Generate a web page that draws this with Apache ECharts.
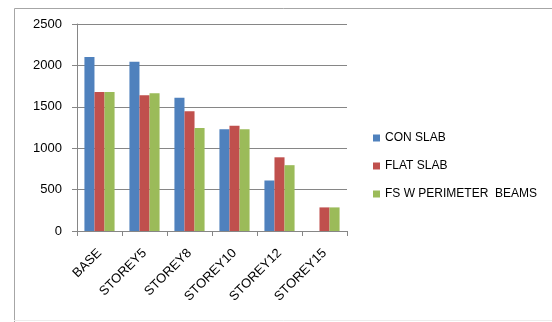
<!DOCTYPE html>
<html>
<head>
<meta charset="utf-8">
<script src="https://cdn.jsdelivr.net/npm/echarts@6/dist/echarts.min.js"></script>
<style>
  html, body { margin: 0; padding: 0; background: #fff; }
  #chart { width: 552px; height: 322px; }
</style>
</head>
<body>
<div id="chart"></div>
<script>
// Building cases along the x axis
const categories = ['BASE', 'STOREY5', 'STOREY8', 'STOREY10', 'STOREY12', 'STOREY15'];

// Values per slab system (no conventional slab result for STOREY15)
const conSlab = [2100, 2045, 1610, 1230, 610, null];
const flatSlab = [1680, 1640, 1445, 1270, 890, 285];
const fsPerimeterBeams = [1680, 1665, 1245, 1230, 795, 285];

const seriesNames = ['CON SLAB', 'FLAT SLAB', 'FS W PERIMETER  BEAMS'];
const seriesColors = ['#4F81BD', '#C0504D', '#9BBB59'];
const seriesData = [conSlab, flatSlab, fsPerimeterBeams];

const yTicks = [0, 500, 1000, 1500, 2000, 2500];

const chart = echarts.init(document.getElementById('chart'), null, { renderer: 'canvas' });

const font = 'Liberation Sans, Arial, sans-serif';

chart.setOption({
  backgroundColor: '#ffffff',
  animation: false,
  graphic: [
    {
      type: 'polyline',
      shape: { points: [[560, 8.5], [14.5, 8.5], [14.5, 330]] },
      style: { stroke: '#a6a6a6', lineWidth: 1, fill: null },
      silent: true
    },
    {
      type: 'line',
      shape: { x1: 14, y1: 320.5, x2: 560, y2: 320.5 },
      style: { stroke: '#ececec', lineWidth: 1 },
      silent: true
    }
  ],
  grid: { left: 77, right: 205, top: 24, bottom: 91, containLabel: false },
  legend: {
    orient: 'vertical',
    left: 368,
    top: 127,
    itemWidth: 7,
    itemHeight: 7,
    itemGap: 16,
    icon: 'rect',
    textStyle: { fontFamily: font, fontSize: 12, color: '#000', padding: [0, 0, 0, 0] },
    data: seriesNames
  },
  xAxis: {
    type: 'category',
    data: categories,
    axisLine: { lineStyle: { color: '#868686', width: 1 } },
    axisTick: { show: true, length: 5, lineStyle: { color: '#868686' }, alignWithLabel: false },
    axisLabel: {
      interval: 0,
      rotate: 45,
      margin: 20,
      fontFamily: font,
      fontSize: 13,
      color: '#000'
    }
  },
  yAxis: {
    type: 'value',
    min: yTicks[0],
    max: yTicks[yTicks.length - 1],
    interval: 500,
    axisLine: { show: true, lineStyle: { color: '#868686', width: 1 } },
    axisTick: { show: true, length: 5, lineStyle: { color: '#868686' } },
    splitLine: { show: true, lineStyle: { color: '#868686', width: 1 } },
    axisLabel: {
      margin: 15,
      fontFamily: font,
      fontSize: 13,
      color: '#000',
      formatter: (v) => String(v)
    }
  },
  series: seriesNames.map((name, i) => ({
    name: name,
    type: 'bar',
    data: seriesData[i],
    barGap: '0%',
    barCategoryGap: '33%',
    itemStyle: { color: seriesColors[i] }
  }))
});
</script>
</body>
</html>
